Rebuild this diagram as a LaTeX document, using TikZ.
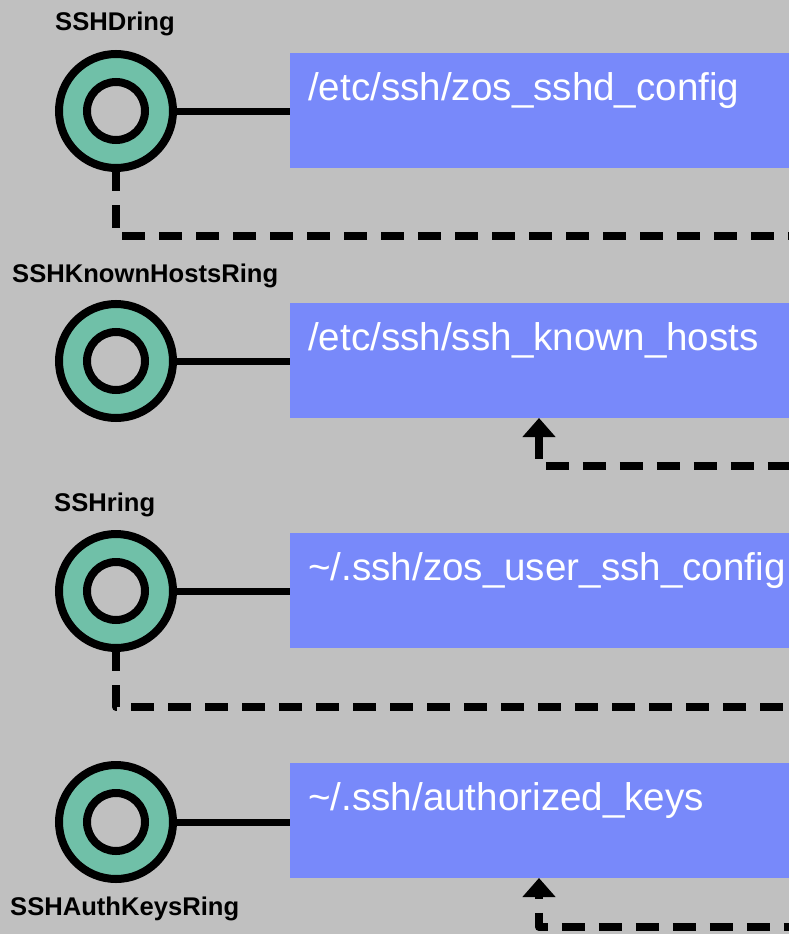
\documentclass[tikz,border=0pt]{standalone}
\usepackage{fontspec}
\setmainfont{Liberation Sans}
\usetikzlibrary{arrows.meta}
\definecolor{bg}{RGB}{192,192,192}
\definecolor{boxblue}{RGB}{120,137,250}
\definecolor{ringteal}{RGB}{112,192,168}
\begin{document}
\begin{tikzpicture}[x=1pt,y=-1pt,
 ring/.style={circle,draw=black,fill=ringteal,line width=8pt,minimum size=114pt,inner sep=0pt,outer sep=0pt},
 hole/.style={draw=black,fill=bg,line width=8pt},
 filebox/.style={rectangle,fill=boxblue,minimum width=520pt,minimum height=115pt,inner sep=0pt,outer sep=0pt,anchor=north west},
 filetext/.style={text=white,font=\fontsize{38.6}{40}\selectfont,anchor=base west,inner sep=0pt},
 ringlabel/.style={font=\fontsize{25.6}{28}\selectfont\bfseries,anchor=base west,inner sep=0pt},
 link/.style={line width=7pt},
 dashlink/.style={line width=8pt,dash pattern=on 23pt off 14pt,line join=round},
 uptip/.style={{Triangle[width=32pt,length=19pt]}-}
]
\fill[bg] (0,0) rectangle (789,934);
\clip (0,0) rectangle (789,934);

\node[filebox] (b1) at (290,53) {};
\node[filebox] (b2) at (290,303) {};
\node[filebox] (b3) at (290,533) {};
\node[filebox] (b4) at (290,763) {};

\node[filetext] (t1) at ([xshift=18pt,yshift=-47pt]b1.north west) {/etc/ssh/zos\_sshd\_config};
\node[filetext] (t2) at ([xshift=18pt,yshift=-47pt]b2.north west) {/etc/ssh/ssh\_known\_hosts};
\node[filetext] (t3) at ([xshift=18pt,yshift=-47pt]b3.north west) {\textasciitilde/.ssh/zos\_user\_ssh\_config};
\node[filetext] (t4) at ([xshift=18pt,yshift=-47pt]b4.north west) {\textasciitilde/.ssh/authorized\_keys};

\node[ring] (r1) at (116,111) {};
\node[ring] (r2) at (116,361) {};
\node[ring] (r3) at (116,591) {};
\node[ring] (r4) at (116,822) {};
\foreach \r in {r1,r2,r3,r4} {\draw[hole] (\r.center) circle[radius=29pt];}

\draw[link] (r1.east) -- (r1.east -| b1.west);
\draw[link] (r2.east) -- (r2.east -| b2.west);
\draw[link] (r3.east) -- (r3.east -| b3.west);
\draw[link] (r4.east) -- (r4.east -| b4.west);

\node[ringlabel] (l1) at (55,31) {SSHDring};
\node[ringlabel] (l2) at (12,282) {SSHKnownHostsRing};
\node[ringlabel] (l3) at (54,511) {SSHring};
\node[ringlabel] (l4) at (10,915) {SSHAuthKeysRing};

\coordinate (e1) at (800,236);
\coordinate (e2) at (800,466);
\coordinate (e3) at (800,707);
\coordinate (e4) at (800,927);
\draw[dashlink] (r1.south) |- (e1);
\draw[dashlink] (r3.south) |- (e3);
\draw[dashlink,uptip] ([xshift=249pt]b2.south west) |- (e2);
\draw[dashlink,uptip,dash phase=20pt] ([xshift=249pt]b4.south west) |- (e4);
\end{tikzpicture}
\end{document}
